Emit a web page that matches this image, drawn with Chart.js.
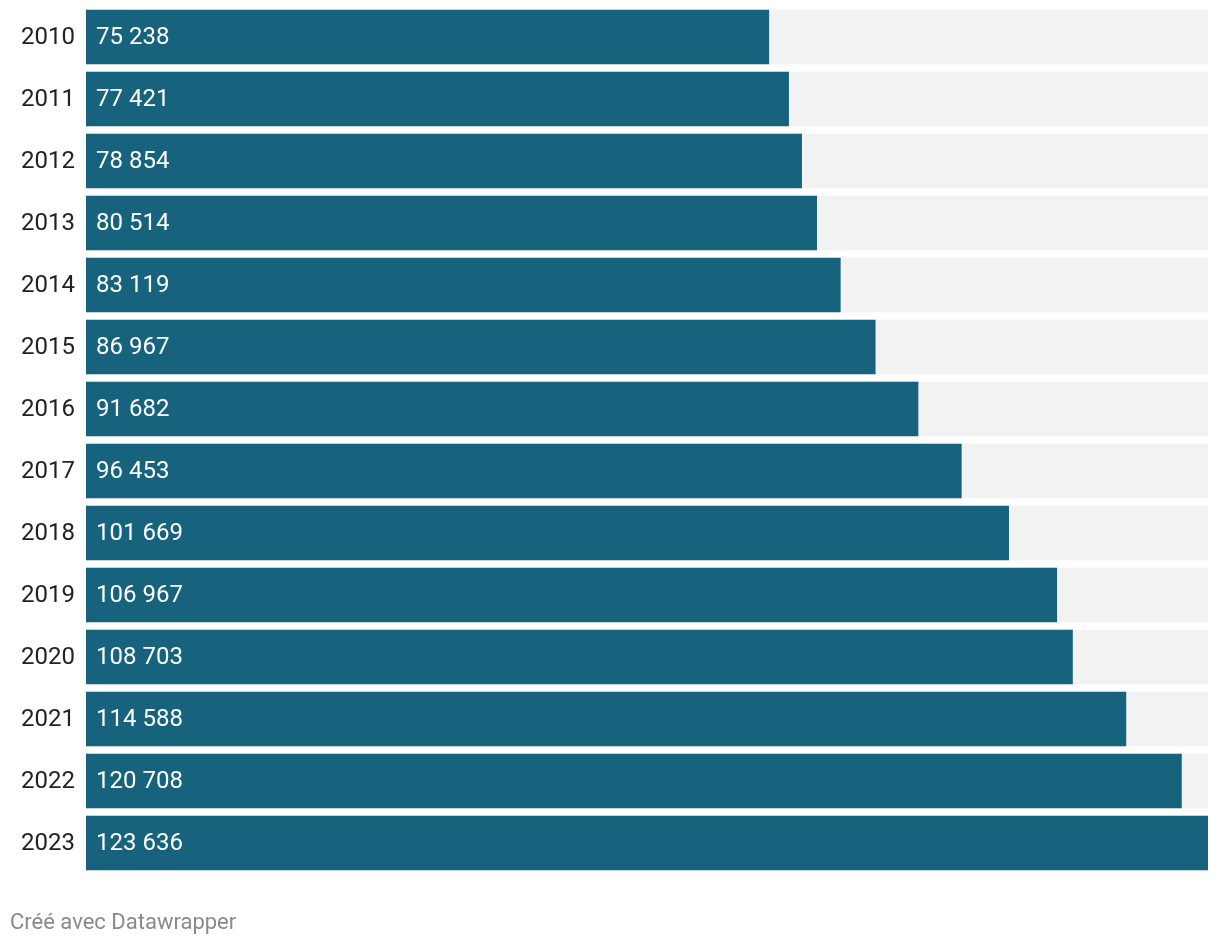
<!DOCTYPE html>
<html>
<head>
<meta charset="utf-8">
<script src="https://cdn.jsdelivr.net/npm/chart.js@4"></script>
<style>
  html, body { margin: 0; padding: 0; background: #ffffff; }
  #wrap { position: relative; width: 1220px; height: 946px; }
  #footer { position: absolute; left: 10px; top: 909px; font-family: Roboto, sans-serif; font-size: 22px; line-height: 26px; color: #8a8a8a; }
</style>
</head>
<body>
<div id="wrap">
  <canvas id="c" width="1220" height="946"></canvas>
  <div id="footer">Créé avec Datawrapper</div>
</div>
<script>
const years = ["2010","2011","2012","2013","2014","2015","2016","2017","2018","2019","2020","2021","2022","2023"];
const values = [75238, 77421, 78854, 80514, 83119, 86967, 91682, 96453, 101669, 106967, 108703, 114588, 120708, 123636];
const maxValue = 123636;
const backgroundValues = years.map(() => maxValue);

const barColor = "#17627c";
const trackColor = "#f2f2f2";

function fmt(v) {
  return String(v).replace(/\B(?=(\d{3})+(?!\d))/g, " ");
}

const valueLabels = {
  id: "valueLabels",
  afterDatasetsDraw(chart) {
    const ctx = chart.ctx;
    const meta = chart.getDatasetMeta(0);
    ctx.save();
    ctx.font = "24px Roboto";
    ctx.fillStyle = "#ffffff";
    ctx.textAlign = "left";
    ctx.textBaseline = "middle";
    meta.data.forEach((bar, i) => {
      ctx.fillText(fmt(values[i]), bar.base + 10, bar.y + 1);
    });
    ctx.restore();
  }
};

new Chart(document.getElementById("c"), {
  type: "bar",
  data: {
    labels: years,
    datasets: [
      { data: values, backgroundColor: barColor, barThickness: 54, grouped: false },
      { data: backgroundValues, backgroundColor: trackColor, barThickness: 54, grouped: false }
    ]
  },
  options: {
    indexAxis: "y",
    responsive: false,
    animation: false,
    devicePixelRatio: 1,
    layout: { padding: { top: 6, bottom: 72, left: 0, right: 12 } },
    plugins: { legend: { display: false }, tooltip: { enabled: false } },
    scales: {
      x: { display: false, min: 0, max: maxValue },
      y: {
        grid: { display: false, drawTicks: false },
        border: { display: false },
        ticks: { color: "#222222", font: { family: "Roboto", size: 24 }, padding: 11, labelOffset: 1 },
        afterFit(scale) { scale.width = 86; scale.paddingTop = 0; scale.paddingBottom = 0; }
      }
    }
  },
  plugins: [valueLabels]
});
</script>
</body>
</html>
